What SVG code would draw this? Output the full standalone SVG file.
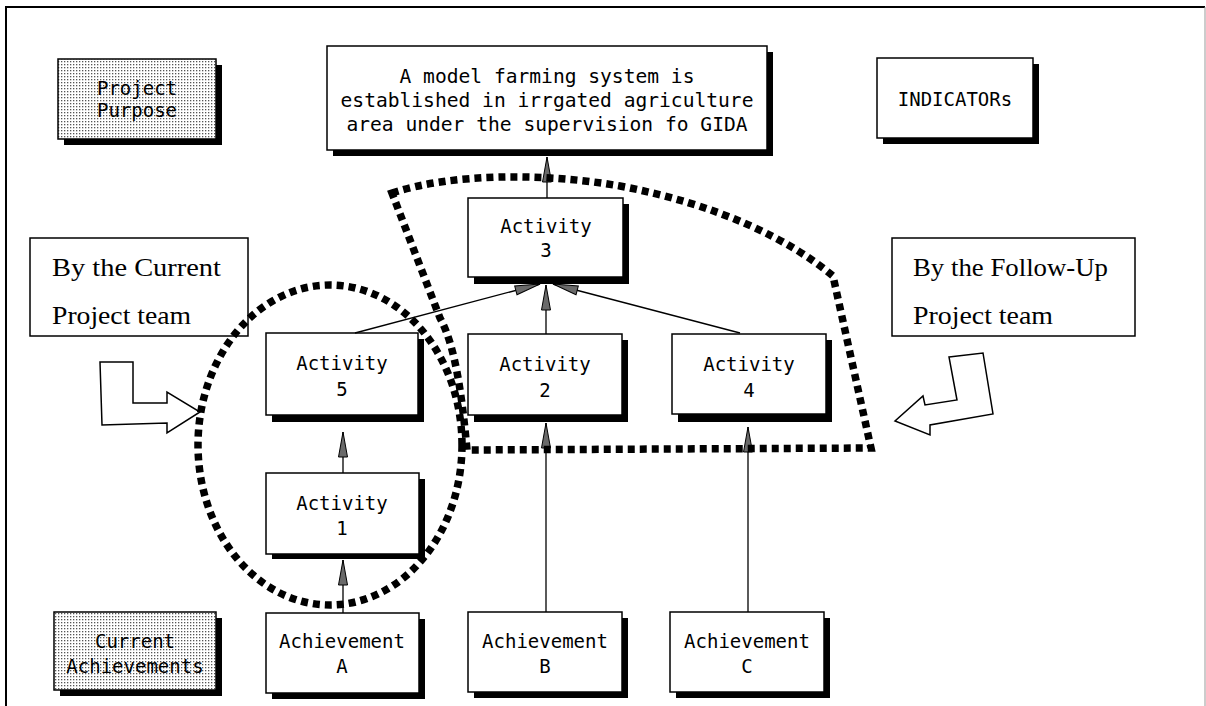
<svg xmlns="http://www.w3.org/2000/svg" width="1206" height="706" viewBox="0 0 1206 706">
  <defs>
    <pattern id="dots" width="3" height="3" patternUnits="userSpaceOnUse">
      <rect width="3" height="3" fill="#fff"/>
      <rect x="1" y="1" width="1.3" height="1.3" fill="#555"/>
    </pattern>
    <marker id="head" viewBox="-26 -6 28 12" refX="0" refY="0" markerWidth="28" markerHeight="12" markerUnits="userSpaceOnUse" orient="auto">
      <path d="M0,0 L-25,-4.5 L-25,4.5 Z" fill="#6a6a6a" stroke="#000" stroke-width="1"/>
    </marker>
    <style>
      .box { fill: #fff; stroke: #000; stroke-width: 1.5; }
      .shade { fill: url(#dots); stroke: #000; stroke-width: 1.5; }
      .shadow { fill: #000; }
      .mono { font-family: "DejaVu Sans Mono", "Liberation Mono", monospace; font-size: 19px; fill: #000; text-anchor: middle; }
      .big { font-size: 19.6px; }
      .serif { font-family: "Liberation Serif", "DejaVu Serif", serif; font-size: 25px; fill: #000; }
      .link { stroke: #000; stroke-width: 1.3; fill: none; marker-end: url(#head); }
      .ring { fill: none; stroke: #000; stroke-width: 7.5; stroke-dasharray: 7 5; }
      .bent { fill: #fff; stroke: #000; stroke-width: 1.5; stroke-linejoin: miter; }
    </style>
  </defs>

  <rect width="1206" height="706" fill="#fff"/>

  <!-- page frame -->
  <path d="M6,706 V7 H1205" fill="none" stroke="#000" stroke-width="2"/>
  <path d="M1205,7 V706" fill="none" stroke="#999" stroke-width="1"/>

  <!-- row labels -->
  <g id="project-purpose">
    <rect class="shadow" x="64" y="65" width="158" height="80"/>
    <rect class="shade" x="58" y="59" width="158" height="80"/>
    <text class="mono" x="137" y="95">Project</text>
    <text class="mono" x="137" y="117">Purpose</text>
  </g>

  <g id="current-achievements">
    <rect class="shadow" x="60" y="618" width="162" height="78"/>
    <rect class="shade" x="54" y="612" width="162" height="78"/>
    <text class="mono" x="135" y="648">Current</text>
    <text class="mono" x="135" y="673">Achievements</text>
  </g>

  <!-- purpose statement -->
  <g id="purpose">
    <rect class="shadow" x="333" y="52" width="440" height="104"/>
    <rect class="box" x="327" y="46" width="440" height="104"/>
    <text class="mono big" x="547" y="83">A model farming system is</text>
    <text class="mono big" x="547" y="107">established in irrgated agriculture</text>
    <text class="mono big" x="547" y="131">area under the supervision fo GIDA</text>
  </g>

  <g id="indicators">
    <rect class="shadow" x="883" y="64" width="156" height="80"/>
    <rect class="box" x="877" y="58" width="156" height="80"/>
    <text class="mono" x="955" y="106">INDICATORs</text>
  </g>

  <!-- team notes -->
  <g id="current-team">
    <rect class="box" x="30" y="238" width="218" height="98"/>
    <text class="serif" x="52" y="276" textLength="169" lengthAdjust="spacingAndGlyphs">By the Current</text>
    <text class="serif" x="52" y="324" textLength="139" lengthAdjust="spacingAndGlyphs">Project team</text>
  </g>

  <g id="followup-team">
    <rect class="box" x="892" y="238" width="243" height="98"/>
    <text class="serif" x="913" y="276" textLength="195" lengthAdjust="spacingAndGlyphs">By the Follow-Up</text>
    <text class="serif" x="913" y="324" textLength="140" lengthAdjust="spacingAndGlyphs">Project team</text>
  </g>

  <!-- activities -->
  <g id="activity-3">
    <rect class="shadow" x="474" y="204" width="155" height="80"/>
    <rect class="box" x="468" y="198" width="155" height="79"/>
    <text class="mono" x="546" y="233">Activity</text>
    <text class="mono" x="546" y="257">3</text>
  </g>

  <g id="activity-5">
    <rect class="shadow" x="272" y="339" width="152" height="83"/>
    <rect class="box" x="266" y="333" width="152" height="82"/>
    <text class="mono" x="342" y="370">Activity</text>
    <text class="mono" x="342" y="396">5</text>
  </g>

  <g id="activity-2">
    <rect class="shadow" x="474" y="340" width="154" height="82"/>
    <rect class="box" x="468" y="334" width="154" height="81"/>
    <text class="mono" x="545" y="371">Activity</text>
    <text class="mono" x="545" y="397">2</text>
  </g>

  <g id="activity-4">
    <rect class="shadow" x="678" y="340" width="154" height="82"/>
    <rect class="box" x="672" y="334" width="154" height="80"/>
    <text class="mono" x="749" y="371">Activity</text>
    <text class="mono" x="749" y="397">4</text>
  </g>

  <g id="activity-1">
    <rect class="shadow" x="272" y="479" width="153" height="80"/>
    <rect class="box" x="266" y="473" width="153" height="81"/>
    <text class="mono" x="342" y="510">Activity</text>
    <text class="mono" x="342" y="535">1</text>
  </g>

  <!-- achievements -->
  <g id="achievement-a">
    <rect class="shadow" x="272" y="619" width="153" height="80"/>
    <rect class="box" x="266" y="613" width="153" height="80"/>
    <text class="mono" x="342" y="648">Achievement</text>
    <text class="mono" x="342" y="673">A</text>
  </g>

  <g id="achievement-b">
    <rect class="shadow" x="474" y="618" width="154" height="80"/>
    <rect class="box" x="468" y="612" width="154" height="80"/>
    <text class="mono" x="545" y="648">Achievement</text>
    <text class="mono" x="545" y="673">B</text>
  </g>

  <g id="achievement-c">
    <rect class="shadow" x="676" y="618" width="154" height="80"/>
    <rect class="box" x="670" y="612" width="154" height="80"/>
    <text class="mono" x="747" y="648">Achievement</text>
    <text class="mono" x="747" y="673">C</text>
  </g>

  <!-- links between the blocks -->
  <g id="connectors">
    <line class="link" x1="547" y1="198" x2="547" y2="157"/>
    <line class="link" x1="546" y1="334" x2="546" y2="285"/>
    <line class="link" x1="355" y1="333" x2="540" y2="284"/>
    <line class="link" x1="740" y1="333" x2="553" y2="284"/>
    <line class="link" x1="343" y1="473" x2="343" y2="432"/>
    <line class="link" x1="343" y1="613" x2="343" y2="560"/>
    <line class="link" x1="546" y1="612" x2="546" y2="423"/>
    <line class="link" x1="748" y1="612" x2="748" y2="427"/>
  </g>

  <!-- bent arrows pointing at the two groups -->
  <g id="arrow-current">
    <polygon class="bent" points="100,362 133,362 133,403 167,403 167,392 200,412 167,433 167,423 102,425"/>
  </g>
  <g id="arrow-followup">
    <polygon class="bent" points="949,357 983,353 993,414 930,425 930,435 895,421 923,396 925,405 957,400"/>
  </g>

  <!-- dotted groupings -->
  <g id="group-current">
    <ellipse class="ring" cx="330" cy="445" rx="132" ry="160"/>
  </g>
  <g id="group-followup">
    <path class="ring" d="M392,193 C450,174 540,172 620,186 C720,205 790,240 833,276 L871,448 L467,450 C462,395 455,345 440,318 Z"/>
  </g>
</svg>
